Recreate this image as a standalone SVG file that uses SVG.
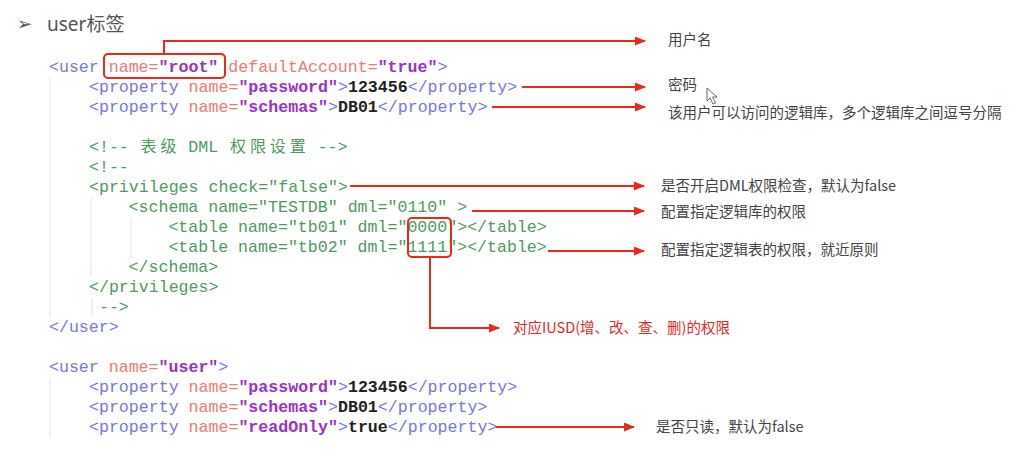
<svg xmlns="http://www.w3.org/2000/svg" width="1024" height="468" viewBox="0 0 1024 468">
<style>
.c{font-family:"Liberation Mono","DejaVu Sans Mono",monospace;font-size:16.6px;white-space:pre}
.t{fill:#7676ea}
.a{fill:#f07b70}
.v{fill:#9a30d0;font-weight:bold}
.x{fill:#222;font-weight:bold}
.g{fill:#4f9a62}
.cj{font-family:"Noto Sans CJK SC",sans-serif;font-size:16px;letter-spacing:3.9px}
.lb{font-family:"Noto Sans CJK SC","Noto Sans",sans-serif;font-size:14.5px;fill:#444}
.red{fill:#e8291c}
.guide{stroke:#e2e2e2;stroke-width:1}
.box{fill:none;stroke:#e8291c;stroke-width:2}
.arr{fill:none;stroke:#e8291c;stroke-width:2;marker-end:url(#ah)}
</style>
<defs>
<marker id="ah" markerUnits="userSpaceOnUse" markerWidth="11" markerHeight="9" refX="10" refY="4.5" orient="auto">
<path d="M0,0 L11,4.5 L0,9 z" fill="#e8291c"/>
</marker>
</defs>
<rect width="1024" height="468" fill="#ffffff"/>

<g id="title">
<text x="17" y="30" font-family="DejaVu Sans,sans-serif" font-size="18" fill="#555">➢</text>
<text x="47" y="31" font-family="Noto Sans,Noto Sans CJK SC,sans-serif" font-size="19" fill="#555">user<tspan font-family="Noto Sans CJK SC,sans-serif">标签</tspan></text>
</g>

<g id="guides">
<line class="guide" x1="50" y1="78" x2="50" y2="318"/>
<line class="guide" x1="91" y1="198" x2="91" y2="276"/>
<line class="guide" x1="92" y1="298" x2="92" y2="316"/>
<line class="guide" x1="131" y1="218" x2="131" y2="258"/>
<line class="guide" x1="50" y1="378" x2="50" y2="438"/>
</g>

<g id="code">
<text class="c" x="49" y="72"><tspan class="t">&lt;user </tspan><tspan class="a">name=</tspan><tspan class="v">"root"</tspan><tspan class="a"> defaultAccount=</tspan><tspan class="v">"true"</tspan><tspan class="t">&gt;</tspan></text>
<text class="c" x="89" y="92"><tspan class="t">&lt;property </tspan><tspan class="a">name=</tspan><tspan class="v">"password"</tspan><tspan class="t">&gt;</tspan><tspan class="x">123456</tspan><tspan class="t">&lt;/property&gt;</tspan></text>
<text class="c" x="89" y="112"><tspan class="t">&lt;property </tspan><tspan class="a">name=</tspan><tspan class="v">"schemas"</tspan><tspan class="t">&gt;</tspan><tspan class="x">DB01</tspan><tspan class="t">&lt;/property&gt;</tspan></text>
<text class="c g" y="152"><tspan x="89">&lt;!-- </tspan><tspan class="cj" x="140.5">表级</tspan><tspan x="178.4"> DML </tspan><tspan class="cj" x="230">权限设置</tspan><tspan x="307.7"> --&gt;</tspan></text>
<text class="c g" x="89" y="172">&lt;!--</text>
<text class="c g" x="89" y="192">&lt;privileges check="false"&gt;</text>
<text class="c g" x="128.6" y="212">&lt;schema name="TESTDB" dml="0110" &gt;</text>
<text class="c g" x="168.4" y="232">&lt;table name="tb01" dml="0000"&gt;&lt;/table&gt;</text>
<text class="c g" x="168.4" y="252">&lt;table name="tb02" dml="1111"&gt;&lt;/table&gt;</text>
<text class="c g" x="128.6" y="272">&lt;/schema&gt;</text>
<text class="c g" x="89" y="292">&lt;/privileges&gt;</text>
<text class="c g" x="89" y="312"> --&gt;</text>
<text class="c t" x="49" y="332">&lt;/user&gt;</text>
<text class="c" x="49" y="372"><tspan class="t">&lt;user </tspan><tspan class="a">name=</tspan><tspan class="v">"user"</tspan><tspan class="t">&gt;</tspan></text>
<text class="c" x="89" y="392"><tspan class="t">&lt;property </tspan><tspan class="a">name=</tspan><tspan class="v">"password"</tspan><tspan class="t">&gt;</tspan><tspan class="x">123456</tspan><tspan class="t">&lt;/property&gt;</tspan></text>
<text class="c" x="89" y="412"><tspan class="t">&lt;property </tspan><tspan class="a">name=</tspan><tspan class="v">"schemas"</tspan><tspan class="t">&gt;</tspan><tspan class="x">DB01</tspan><tspan class="t">&lt;/property&gt;</tspan></text>
<text class="c" x="89" y="432"><tspan class="t">&lt;property </tspan><tspan class="a">name=</tspan><tspan class="v">"readOnly"</tspan><tspan class="t">&gt;</tspan><tspan class="x">true</tspan><tspan class="t">&lt;/property&gt;</tspan></text>
</g>

<g id="highlight-name"><rect class="box" x="104" y="54" width="121" height="24" rx="4"/></g>
<g id="highlight-dml"><rect class="box" x="408" y="218" width="43" height="39" rx="4"/></g>

<g id="connectors">
<polyline class="arr" points="164,54 164,41 645,41"/>
<polyline class="arr" points="522,87 645,87"/>
<polyline class="arr" points="492,107 645,107"/>
<polyline class="arr" points="350,186 644,186"/>
<polyline class="arr" points="472,211 644,211"/>
<polyline class="arr" points="548,251 644,251"/>
<polyline class="arr" points="430,257 430,328 499,328"/>
<polyline class="arr" points="496,427 634,427"/>
</g>

<g id="label-username"><text class="lb" x="668" y="45">用户名</text></g>
<g id="label-password"><text class="lb" x="668" y="90">密码</text></g>
<g id="cursor"><path d="M707,88 L707,101 L710,98 L713,104 L715.5,103 L712.5,97 L717,97 Z" fill="#fff" stroke="#666" stroke-width="1"/></g>
<g id="label-schemas"><text class="lb" x="668" y="118">该用户可以访问的逻辑库，多个逻辑库之间逗号分隔</text></g>
<g id="label-privileges"><text class="lb" x="661" y="191">是否开启DML权限检查，默认为false</text></g>
<g id="label-schema"><text class="lb" x="661" y="217">配置指定逻辑库的权限</text></g>
<g id="label-table"><text class="lb" x="661" y="255">配置指定逻辑表的权限，就近原则</text></g>
<g id="label-iusd"><text class="lb red" x="513" y="333">对应IUSD(增、改、查、删)的权限</text></g>
<g id="label-readonly"><text class="lb" x="656" y="432">是否只读，默认为false</text></g>
</svg>
